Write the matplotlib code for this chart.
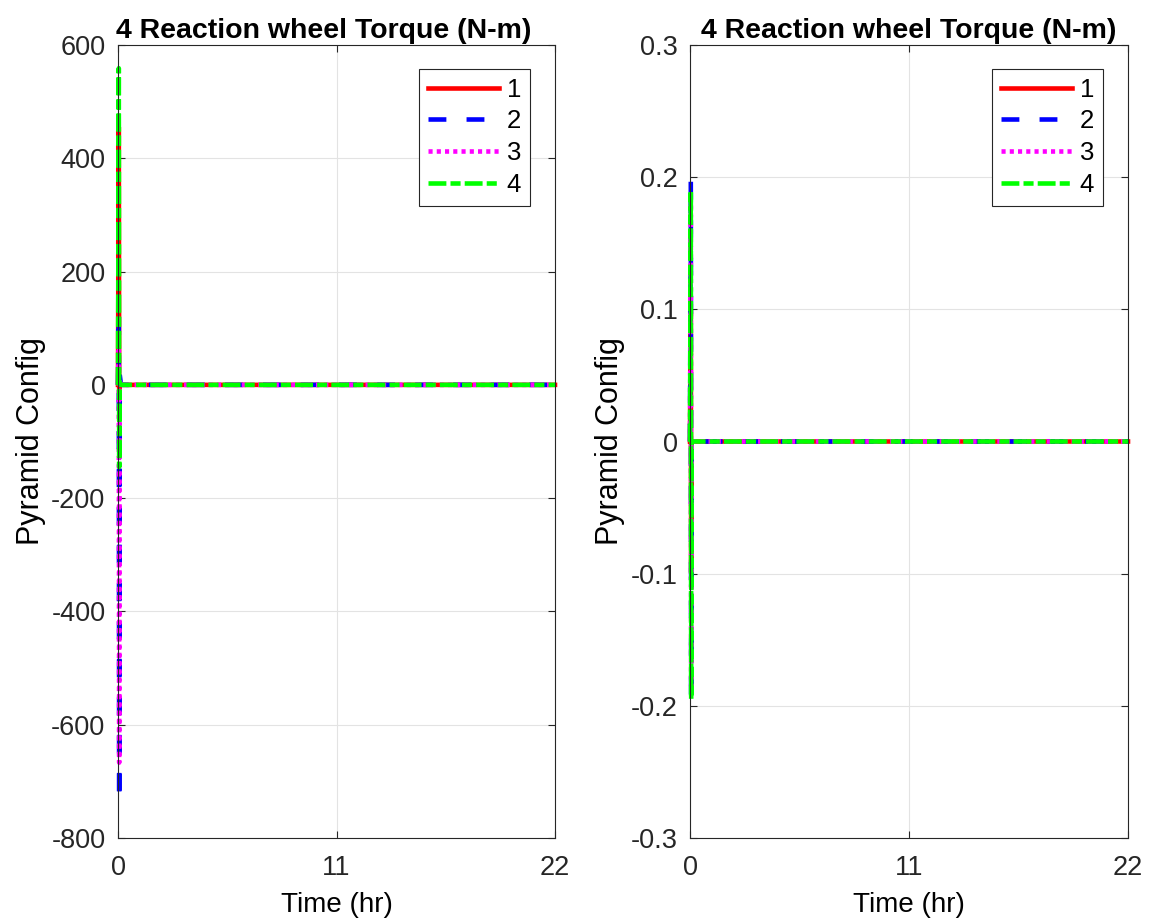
import matplotlib
matplotlib.use("Agg")
import matplotlib.pyplot as plt

# Simulation time samples (hours): a short transient right after start, then steady state
t_hr = [0.0, 0.04, 0.06, 0.08, 0.15, 22.0]

# Left panel: wheel torques (N-m) for wheels 1..4
left_w1 = [0.0, 455.0, -30.0, 5.0, 0.0, 0.0]
left_w2 = [0.0, 127.0, -735.0, 20.0, 0.0, 0.0]
left_w3 = [0.0, 61.0, -667.0, 10.0, 0.0, 0.0]
left_w4 = [0.0, 559.0, -145.0, 5.0, 0.0, 0.0]

# Right panel: wheel torques (N-m), saturated at about +/-0.2
right_w1 = [0.0, 0.10, -0.10, 0.0, 0.0, 0.0]
right_w2 = [0.0, 0.199, -0.199, 0.0, 0.0, 0.0]
right_w3 = [0.0, 0.18, -0.185, 0.0, 0.0, 0.0]
right_w4 = [0.0, 0.19, -0.195, 0.0, 0.0, 0.0]

wheel_labels = ["1", "2", "3", "4"]
x_ticks = [0, 11, 22]
left_yticks = [-800, -600, -400, -200, 0, 200, 400, 600]
right_yticks = [-0.3, -0.2, -0.1, 0, 0.1, 0.2, 0.3]
right_yticklabels = ["-0.3", "-0.2", "-0.1", "0", "0.1", "0.2", "0.3"]

title_text = "4 Reaction wheel Torque (N-m)"
ylabel_text = "Pyramid Config"
xlabel_text = "Time (hr)"

plt.rcParams["font.family"] = ["Liberation Sans", "DejaVu Sans"]
plt.rcParams["axes.unicode_minus"] = False

LW = 3.3
styles = [
    dict(color=(1, 0, 0), linestyle="-"),
    dict(color=(0, 0, 1), linestyle=(0, (3.9, 4.4))),
    dict(color=(1, 0, 1), linestyle=(0, (0.9, 0.9))),
    dict(color=(0, 1, 0), linestyle=(0, (3.9, 0.9, 2.2, 0.9))),
]

fig = plt.figure(figsize=(11.52, 9.24), dpi=100)
ax_l = fig.add_axes([118 / 1152, 1 - 838 / 924, 437 / 1152, 793 / 924])
ax_r = fig.add_axes([690 / 1152, 1 - 838 / 924, 438 / 1152, 793 / 924])

panels = [
    (ax_l, [left_w1, left_w2, left_w3, left_w4], (-800, 600), left_yticks, None, 0.47),
    (ax_r, [right_w1, right_w2, right_w3, right_w4], (-0.3, 0.3), right_yticks, right_yticklabels, 0.5),
]

axis_gray = (0.15, 0.15, 0.15)
for ax, series, ylim, yticks, ylabels, title_x in panels:
    for vals, lab, st in zip(series, wheel_labels, styles):
        ax.plot(t_hr, vals, label=lab, linewidth=LW, clip_on=False, **st)
    ax.set_xlim(0, 22)
    ax.set_ylim(*ylim)
    ax.set_xticks(x_ticks)
    ax.set_yticks(yticks)
    if ylabels is not None:
        ax.set_yticklabels(ylabels)
    ax.grid(True, color=(0.89, 0.89, 0.89), linewidth=0.8)
    ax.set_axisbelow(True)
    for sp in ax.spines.values():
        sp.set_color(axis_gray)
        sp.set_linewidth(0.8)
    ax.tick_params(direction="in", length=5, width=0.8, colors=axis_gray,
                   labelsize=19.5, labelcolor=(0.15, 0.15, 0.15))
    ax.tick_params(axis="x", pad=12)
    ax.tick_params(axis="y", pad=9)
    ax.tick_params(top=True, right=True)
    ax.set_title(title_text, fontsize=20.5, fontweight="bold", pad=5, x=title_x)
    ax.set_ylabel(ylabel_text, fontsize=22, labelpad=4)
    ax.set_xlabel(xlabel_text, fontsize=20, labelpad=8)
    leg = ax.legend(loc="upper right", bbox_to_anchor=(0.943, 0.970),
                    fontsize=18.5, handlelength=2.75, handletextpad=0.3,
                    labelspacing=0.3, borderpad=0.35, borderaxespad=0.0,
                    fancybox=False, framealpha=1.0, edgecolor=axis_gray)
    leg.get_frame().set_linewidth(0.8)

fig.savefig("out.png", dpi=100)
